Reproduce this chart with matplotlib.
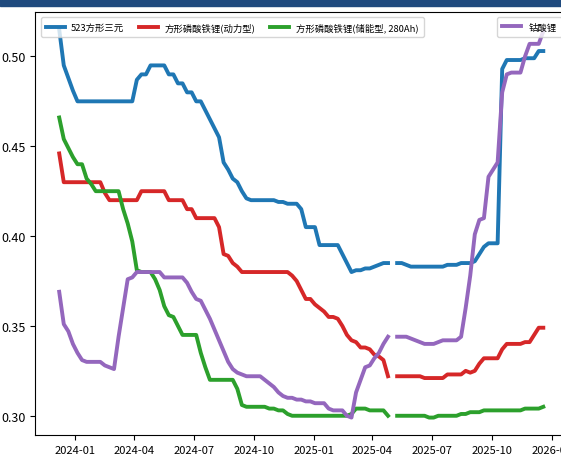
import numpy as np
import pandas as pd
import matplotlib
matplotlib.use("Agg")
import matplotlib.pyplot as plt
import matplotlib.dates as mdates
from matplotlib.patches import Rectangle

plt.rcParams['font.family'] = ['Noto Sans CJK SC', 'DejaVu Sans']
plt.rcParams['axes.unicode_minus'] = False

# weekly quotes (Fridays), one missing week around the May holiday
dates = pd.date_range('2023-12-08', periods=107, freq='7D')
nan = np.nan

ncm523 = [0.515, 0.495, 0.488, 0.481, 0.475, 0.475, 0.475, 0.475, 0.475, 0.475,
          0.475, 0.475, 0.475, 0.475, 0.475, 0.475, 0.475, 0.487, 0.49, 0.49,
          0.495, 0.495, 0.495, 0.495, 0.49, 0.49, 0.485, 0.485, 0.48, 0.48,
          0.475, 0.475, 0.47, 0.465, 0.46, 0.455, 0.441, 0.437, 0.432, 0.43,
          0.425, 0.421, 0.42, 0.42, 0.42, 0.42, 0.42, 0.42, 0.419, 0.419,
          0.418, 0.418, 0.418, 0.415, 0.405, 0.405, 0.405, 0.395, 0.395, 0.395,
          0.395, 0.395, 0.39, 0.385, 0.38, 0.381, 0.381, 0.382, 0.382, 0.383,
          0.384, 0.385, 0.385, nan, 0.385, 0.385, 0.384, 0.383, 0.383, 0.383,
          0.383, 0.383, 0.383, 0.383, 0.383, 0.384, 0.384, 0.384, 0.385, 0.385,
          0.385, 0.386, 0.39, 0.394, 0.396, 0.396, 0.396, 0.493, 0.498, 0.498,
          0.498, 0.498, 0.499, 0.499, 0.499, 0.503, 0.503]

lfp_power = [0.446, 0.43, 0.43, 0.43, 0.43, 0.43, 0.43, 0.43, 0.43, 0.43,
             0.424, 0.42, 0.42, 0.42, 0.42, 0.42, 0.42, 0.42, 0.425, 0.425,
             0.425, 0.425, 0.425, 0.425, 0.42, 0.42, 0.42, 0.42, 0.415, 0.415,
             0.41, 0.41, 0.41, 0.41, 0.41, 0.405, 0.39, 0.389, 0.385, 0.383,
             0.38, 0.38, 0.38, 0.38, 0.38, 0.38, 0.38, 0.38, 0.38, 0.38,
             0.38, 0.378, 0.375, 0.37, 0.365, 0.365, 0.362, 0.36, 0.358, 0.355,
             0.355, 0.354, 0.35, 0.345, 0.342, 0.341, 0.338, 0.338, 0.337, 0.334,
             0.333, 0.331, 0.322, nan, 0.322, 0.322, 0.322, 0.322, 0.322, 0.322,
             0.321, 0.321, 0.321, 0.321, 0.321, 0.323, 0.323, 0.323, 0.323, 0.325,
             0.324, 0.325, 0.329, 0.332, 0.332, 0.332, 0.332, 0.337, 0.34, 0.34,
             0.34, 0.34, 0.341, 0.341, 0.345, 0.349, 0.349]

lfp_storage = [0.466, 0.454, 0.449, 0.444, 0.44, 0.44, 0.432, 0.429, 0.425, 0.425,
               0.425, 0.425, 0.425, 0.425, 0.415, 0.407, 0.397, 0.381, 0.38, 0.38,
               0.38, 0.376, 0.37, 0.361, 0.356, 0.355, 0.35, 0.345, 0.345, 0.345,
               0.345, 0.335, 0.327, 0.32, 0.32, 0.32, 0.32, 0.32, 0.32, 0.315,
               0.306, 0.305, 0.305, 0.305, 0.305, 0.305, 0.304, 0.304, 0.303, 0.303,
               0.301, 0.30, 0.30, 0.30, 0.30, 0.30, 0.30, 0.30, 0.30, 0.30,
               0.30, 0.30, 0.30, 0.30, 0.301, 0.304, 0.304, 0.304, 0.303, 0.303,
               0.303, 0.303, 0.30, nan, 0.30, 0.30, 0.30, 0.30, 0.30, 0.30,
               0.30, 0.299, 0.299, 0.30, 0.30, 0.30, 0.30, 0.30, 0.301, 0.301,
               0.302, 0.302, 0.302, 0.303, 0.303, 0.303, 0.303, 0.303, 0.303, 0.303,
               0.303, 0.303, 0.304, 0.304, 0.304, 0.304, 0.305]

lco = [0.369, 0.351, 0.347, 0.34, 0.335, 0.331, 0.33, 0.33, 0.33, 0.33,
       0.328, 0.327, 0.326, 0.344, 0.36, 0.376, 0.377, 0.38, 0.38, 0.38,
       0.38, 0.38, 0.38, 0.377, 0.377, 0.377, 0.377, 0.377, 0.374, 0.369,
       0.365, 0.364, 0.359, 0.354, 0.348, 0.342, 0.336, 0.33, 0.326, 0.324,
       0.323, 0.322, 0.322, 0.322, 0.322, 0.32, 0.318, 0.316, 0.313, 0.311,
       0.31, 0.31, 0.309, 0.309, 0.308, 0.308, 0.307, 0.307, 0.307, 0.304,
       0.303, 0.303, 0.303, 0.30, 0.299, 0.313, 0.32, 0.327, 0.328, 0.332,
       0.335, 0.34, 0.344, nan, 0.344, 0.344, 0.344, 0.343, 0.342, 0.341,
       0.34, 0.34, 0.34, 0.341, 0.342, 0.342, 0.342, 0.342, 0.344, 0.36,
       0.378, 0.401, 0.409, 0.41, 0.433, 0.437, 0.441, 0.48, 0.49, 0.491,
       0.491, 0.491, 0.50, 0.507, 0.507, 0.507, 0.514]

labels = ['523方形三元', '方形磷酸铁锂(动力型)', '方形磷酸铁锂(储能型, 280Ah)', '钴酸锂']
colors = ['C0', 'C3', 'C2', 'C4']

fig = plt.figure(figsize=(5.61, 4.56), dpi=100)
# dark header strip of the screenshot
fig.patches.append(Rectangle((0, 1 - 7 / 456), 1, 7 / 456, transform=fig.transFigure,
                             color='#1F4A7E', zorder=0))
ax = fig.add_axes([35 / 561, 1 - 436 / 456, 532.5 / 561, 423.5 / 456])

lines = []
for series, lab, col in zip([ncm523, lfp_power, lfp_storage, lco], labels, colors):
    ln, = ax.plot(dates, series, color=col, lw=2.8, label=lab)
    lines.append(ln)

ax.set_ylim(0.2893, 0.525)
ax.set_yticks([0.30, 0.35, 0.40, 0.45, 0.50])
ax.xaxis.set_major_locator(mdates.MonthLocator(bymonth=[1, 4, 7, 10]))
ax.xaxis.set_major_formatter(mdates.DateFormatter('%Y-%m'))
ax.tick_params(axis='y', labelsize=9)
ax.tick_params(axis='x', labelsize=8)

leg1 = ax.legend(handles=lines[:3], loc='upper left', ncol=3, fontsize=6.75,
                 columnspacing=1.6, handletextpad=0.7, borderaxespad=0.6,
                 borderpad=0.55)
ax.add_artist(leg1)
ax.legend(handles=lines[3:], loc='upper right', fontsize=6.75, borderaxespad=0.6,
          borderpad=0.55)

fig.savefig('out.png', dpi=100)
